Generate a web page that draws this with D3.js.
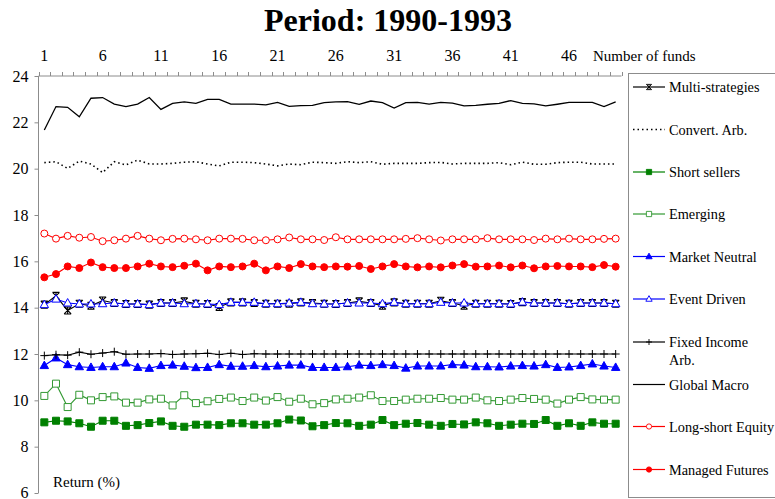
<!DOCTYPE html>
<html>
<head>
<meta charset="utf-8">
<script src="https://cdn.jsdelivr.net/npm/d3@7"></script>
<style>
  html, body { margin: 0; padding: 0; background: #fff; }
  svg { display: block; }
  text { font-family: "Liberation Serif", "Times New Roman", serif; fill: #000; }
</style>
</head>
<body>
<svg id="chart" width="775" height="499"></svg>
<script>
// ---------- DATA ----------
const titleText = "Period: 1990-1993";
const funds = [1,2,3,4,5,6,7,8,9,10,11,12,13,14,15,16,17,18,19,20,21,22,23,24,25,
               26,27,28,29,30,31,32,33,34,35,36,37,38,39,40,41,42,43,44,45,46,47,48,49,50];
const xTickLabels = [1, 6, 11, 16, 21, 26, 31, 36, 41, 46];
const yTicks = [6, 8, 10, 12, 14, 16, 18, 20, 22, 24];

const multiStrategies = [14.13,14.51,13.88,14.17,14.08,14.31,14.20,14.16,14.16,14.13,14.20,14.20,14.27,14.17,14.16,14.03,14.23,14.23,14.20,14.17,14.17,14.17,14.23,14.20,14.17,
  14.16,14.20,14.27,14.20,14.08,14.23,14.17,14.17,14.17,14.30,14.20,14.08,14.17,14.17,14.17,14.16,14.24,14.20,14.20,14.20,14.17,14.20,14.20,14.20,14.17];
const convertArb = [20.26,20.30,20.01,20.33,20.20,19.83,20.30,20.16,20.37,20.20,20.20,20.23,20.28,20.30,20.20,20.12,20.28,20.28,20.26,20.20,20.12,20.20,20.17,20.28,20.26,
  20.23,20.30,20.26,20.30,20.19,20.23,20.23,20.23,20.26,20.27,20.20,20.23,20.23,20.23,20.26,20.17,20.28,20.19,20.19,20.26,20.28,20.28,20.20,20.20,20.20];
const shortSellers = [9.05,9.12,9.09,9.01,8.86,9.12,9.12,8.90,8.93,9.02,9.09,8.90,8.86,8.95,8.95,8.93,9.01,9.01,8.95,8.95,9.01,9.17,9.13,8.88,8.93,
  9.02,9.01,8.90,8.95,9.15,8.93,8.99,9.02,8.95,8.90,8.98,8.96,9.05,9.01,8.90,8.95,8.99,8.98,9.15,8.90,9.01,8.90,9.05,8.99,8.99];
const emerging = [10.19,10.72,9.71,10.24,10.00,10.14,10.17,9.90,9.90,10.04,10.07,9.78,10.22,9.88,9.96,10.06,10.12,9.97,10.12,9.99,10.14,9.94,10.07,9.83,9.88,
  10.04,10.07,10.12,10.22,9.97,9.97,10.03,10.07,10.07,10.10,10.03,10.03,10.12,10.00,9.97,10.03,10.10,10.06,10.03,9.86,10.03,10.14,10.04,10.03,10.03];
const marketNeutral = [11.50,11.83,11.54,11.45,11.42,11.45,11.45,11.61,11.42,11.38,11.50,11.52,11.47,11.41,11.42,11.54,11.47,11.47,11.50,11.45,11.48,11.52,11.52,11.42,11.42,
  11.42,11.45,11.52,11.50,11.54,11.50,11.39,11.48,11.48,11.48,11.54,11.52,11.45,11.45,11.44,11.48,11.50,11.48,11.54,11.42,11.44,11.50,11.57,11.48,11.42];
const eventDriven = [14.13,14.37,14.20,14.16,14.16,14.17,14.20,14.16,14.16,14.13,14.20,14.20,14.17,14.17,14.16,14.13,14.23,14.23,14.23,14.17,14.17,14.20,14.23,14.17,14.16,
  14.16,14.20,14.20,14.20,14.17,14.23,14.17,14.17,14.17,14.23,14.20,14.20,14.17,14.17,14.17,14.16,14.24,14.20,14.20,14.20,14.17,14.20,14.20,14.20,14.17];
const fixedIncomeArb = [11.93,11.97,11.95,12.08,11.99,12.04,12.10,11.99,12.00,12.00,12.02,11.98,12.00,12.01,12.03,11.98,12.03,11.98,12.01,12.00,12.00,12.00,12.00,12.00,12.00,
  12.00,12.00,12.00,12.00,12.00,12.00,12.00,12.00,12.00,12.00,12.00,12.00,12.00,12.00,12.00,12.00,12.00,12.00,12.00,12.00,12.00,12.00,12.00,12.00,12.00];
const globalMacro = [21.67,22.68,22.65,22.24,23.04,23.07,22.79,22.68,22.79,23.07,22.56,22.82,22.88,22.82,22.99,22.99,22.79,22.79,22.79,22.75,22.86,22.69,22.72,22.73,22.85,
  22.88,22.89,22.78,22.92,22.85,22.62,22.85,22.86,22.79,22.86,22.83,22.71,22.73,22.78,22.82,22.94,22.82,22.80,22.71,22.78,22.86,22.86,22.86,22.68,22.88];
const longShortEquity = [17.20,16.98,17.10,17.02,17.05,16.87,16.91,16.98,17.10,16.98,16.91,16.97,16.98,16.95,16.91,16.98,16.98,16.97,16.91,16.91,16.95,17.03,16.95,16.95,16.92,
  17.04,16.95,16.95,16.95,16.95,16.95,16.97,17.00,16.95,16.90,16.95,16.95,16.95,17.00,16.95,16.95,16.95,16.92,16.98,16.95,16.98,16.95,16.95,16.97,16.98];
const managedFutures = [15.31,15.45,15.78,15.71,15.95,15.75,15.71,15.71,15.78,15.90,15.78,15.75,15.81,15.90,15.61,15.78,15.75,15.78,15.90,15.61,15.78,15.71,15.88,15.78,15.75,
  15.78,15.77,15.80,15.67,15.78,15.88,15.78,15.74,15.78,15.74,15.82,15.88,15.77,15.78,15.82,15.74,15.82,15.70,15.78,15.80,15.78,15.78,15.75,15.84,15.77];

const seriesNames = ["Multi-strategies","Convert. Arb.","Short sellers","Emerging","Market Neutral",
                     "Event Driven","Fixed Income Arb.","Global Macro","Long-short Equity","Managed Futures"];
const seriesValues = [multiStrategies, convertArb, shortSellers, emerging, marketNeutral,
                      eventDriven, fixedIncomeArb, globalMacro, longShortEquity, managedFutures];

// ---------- STYLES ----------
const styles = [
  {color:"#000000", marker:"star",     fill:"#000", dash:null},
  {color:"#000000", marker:"none",     fill:"none", dash:"1.5,3"},
  {color:"#008000", marker:"square",   fill:"#008000", dash:null},
  {color:"#339933", marker:"square",   fill:"#ffffff", dash:null},
  {color:"#0000ff", marker:"triangle", fill:"#0000ff", dash:null},
  {color:"#0000ff", marker:"triangle", fill:"#ffffff", dash:null},
  {color:"#000000", marker:"plus",     fill:"none", dash:null},
  {color:"#000000", marker:"none",     fill:"none", dash:null},
  {color:"#ff0000", marker:"circle",   fill:"#ffffff", dash:null},
  {color:"#ff0000", marker:"circle",   fill:"#ff0000", dash:null}
];

const svg = d3.select("#chart");
const x = d3.scaleLinear().domain([0.5, 50.5]).range([38.5, 621.5]);
const y = d3.scaleLinear().domain([6, 24]).range([493, 76]);

// title
svg.append("text").attr("x", 388).attr("y", 31).attr("text-anchor", "middle")
  .style("font-size", "32px").style("font-weight", "bold").text(titleText);

// left axis
const axisColor = "#8c8c8c";
const yAxis = d3.axisLeft(y).tickValues(yTicks).tickSize(4).tickPadding(6).tickFormat(d3.format("d"));
const gy = svg.append("g").attr("transform", "translate(38.5,0)").call(yAxis);
gy.select(".domain").attr("stroke", axisColor).attr("d", `M0,${y(24)}V${y(6)}`);
gy.selectAll(".tick line").attr("stroke", axisColor);
gy.selectAll(".tick text").style("font-size", "16px").style("font-family", "Liberation Serif, serif").attr("fill", "#000");
gy.selectAll(".tick text").filter(d => d === 6).attr("dy", "0.25em");

// top axis (tick marks between categories)
const boundaries = funds.map(d => d - 0.5).concat([funds[funds.length - 1] + 0.5]);
const gx = svg.append("g").attr("transform", `translate(0,${y(24)})`);
gx.append("line").attr("x1", x(0.5)).attr("x2", x(50.5)).attr("y1", 0).attr("y2", 0).attr("stroke", axisColor);
gx.selectAll("line.tk").data(boundaries).enter().append("line").attr("class", "tk")
  .attr("x1", d => Math.round(x(d)) + 0.5).attr("x2", d => Math.round(x(d)) + 0.5)
  .attr("y1", 0).attr("y2", -4).attr("stroke", axisColor);
svg.selectAll("text.xl").data(xTickLabels).enter().append("text").attr("class", "xl")
  .attr("x", d => x(d)).attr("y", 61).attr("text-anchor", "middle")
  .style("font-size", "16px").text(d => d);
svg.append("text").attr("x", 593).attr("y", 61).style("font-size", "15px").text("Number of funds");

svg.append("text").attr("x", 53).attr("y", 487).style("font-size", "15px").text("Return (%)");

// marker generator
function markerPath(type) {
  switch (type) {
    case "square": return "M-3.5,-3.5H3.5V3.5H-3.5Z";
    case "triangle": return "M0,-4.5L4.2,3L-4.2,3Z";
    case "circle": return "M3.5,0A3.5,3.5 0 1,1 -3.5,0A3.5,3.5 0 1,1 3.5,0Z";
    case "plus": return "M-4,0H4M0,-4V4";
    case "star": return "M-3.5,-3.5L3.5,3.5M3.5,-3.5L-3.5,3.5M-3.5,-3.5H3.5M-3.5,3.5H3.5M0,-3.5V3.5";
    default: return null;
  }
}

const line = d3.line().x((d, i) => x(funds[i])).y(d => y(d));

seriesValues.forEach((vals, k) => {
  const st = styles[k];
  const g = svg.append("g");
  g.append("path").attr("d", line(vals)).attr("fill", "none").attr("stroke", st.color)
    .attr("stroke-width", st.marker === "none" && !st.dash ? 1.3 : (st.dash ? 1.6 : 1.1))
    .attr("stroke-dasharray", st.dash);
  const mp = markerPath(st.marker);
  if (mp) {
    const filled = st.marker !== "plus" && st.marker !== "star";
    g.selectAll("path.m").data(vals).enter().append("path").attr("class", "m")
      .attr("transform", (d, i) => `translate(${x(funds[i])},${y(d)})`)
      .attr("d", mp)
      .attr("fill", filled ? st.fill : "none")
      .attr("stroke", st.color).attr("stroke-width", st.marker === "star" ? 1.1 : 1);
  }
});

// legend
svg.append("rect").attr("x", 628.5).attr("y", 73.5).attr("width", 160).attr("height", 424)
  .attr("fill", "none").attr("stroke", axisColor);
const legendY = [87, 129.5, 172, 214, 256.5, 299, 342, 384.5, 426.5, 469.5];
seriesNames.forEach((name, k) => {
  const st = styles[k];
  const ly = legendY[k];
  const g = svg.append("g").attr("transform", `translate(0,${ly})`);
  g.append("line").attr("x1", 633).attr("x2", 665).attr("y1", 0).attr("y2", 0)
    .attr("stroke", st.color).attr("stroke-width", st.dash ? 1.4 : 1.2).attr("stroke-dasharray", st.dash);
  const mp = markerPath(st.marker);
  if (mp) {
    const filled = st.marker !== "plus" && st.marker !== "star";
    g.append("path").attr("transform", "translate(649,0) scale(0.75)").attr("d", mp)
      .attr("fill", filled ? st.fill : "none").attr("stroke", st.color).attr("stroke-width", 1.2);
  }
  const t = g.append("text").attr("x", 669).attr("y", 5).style("font-size", "14.3px");
  if (name === "Fixed Income Arb.") {
    t.append("tspan").attr("x", 669).attr("dy", 0).text("Fixed Income");
    t.append("tspan").attr("x", 669).attr("dy", 17.5).text("Arb.");
  } else {
    t.text(name);
  }
});
</script>
</body>
</html>
